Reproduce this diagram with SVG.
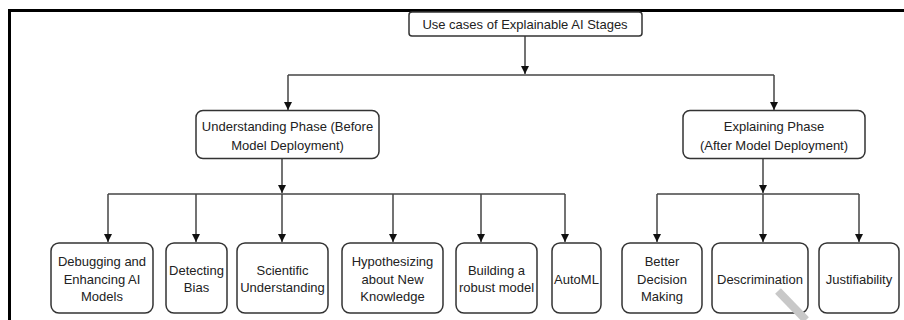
<svg xmlns="http://www.w3.org/2000/svg" width="904" height="320" viewBox="0 0 904 320">
<style>
.box{fill:#fff;stroke:#333;stroke-width:1.5}
.t{font-family:"Liberation Sans",Arial,sans-serif;font-size:13px;fill:#222;text-anchor:middle}
.c{fill:none;stroke:#444;stroke-width:1.5}
</style>
<defs>
<marker id="ah" viewBox="0 0 10 10" refX="10" refY="5" markerWidth="8" markerHeight="8" markerUnits="userSpaceOnUse" orient="auto">
<path d="M0,0 L10,5 L0,10 z" fill="#111"/>
</marker>
</defs>
<rect width="904" height="320" fill="#fff"/>
<path d="M9.5,320 V10.5 H904" fill="none" stroke="#000" stroke-width="3"/>
<g id="connectors">
<path class="c" d="M525,36 V74" marker-end="url(#ah)"/>
<path class="c" d="M288,75 H774"/>
<path class="c" d="M288,75 V110" marker-end="url(#ah)"/>
<path class="c" d="M774,75 V110" marker-end="url(#ah)"/>
<path class="c" d="M282,159 V193" marker-end="url(#ah)"/>
<path class="c" d="M108,194 H565"/>
<path class="c" d="M108,194 V242" marker-end="url(#ah)"/>
<path class="c" d="M196,194 V242" marker-end="url(#ah)"/>
<path class="c" d="M282,194 V242" marker-end="url(#ah)"/>
<path class="c" d="M393,194 V242" marker-end="url(#ah)"/>
<path class="c" d="M481,194 V242" marker-end="url(#ah)"/>
<path class="c" d="M565,194 V242" marker-end="url(#ah)"/>
<path class="c" d="M763,159 V193" marker-end="url(#ah)"/>
<path class="c" d="M657,194 H859"/>
<path class="c" d="M657,194 V242" marker-end="url(#ah)"/>
<path class="c" d="M763,194 V242" marker-end="url(#ah)"/>
<path class="c" d="M859,194 V242" marker-end="url(#ah)"/>
</g>
<g id="root"><rect class="box" x="409" y="12" width="233" height="24" rx="3"/><text class="t" x="525" y="29">Use cases of Explainable AI Stages</text></g>
<g id="understanding"><rect class="box" x="196" y="110.5" width="183" height="48" rx="7"/><text class="t" x="287.5" y="131">Understanding Phase (Before</text><text class="t" x="287.5" y="150">Model Deployment)</text></g>
<g id="explaining"><rect class="box" x="683" y="110.5" width="182" height="48" rx="7"/><text class="t" x="774" y="131">Explaining Phase</text><text class="t" x="774" y="150">(After Model Deployment)</text></g>
<g id="debugging"><rect class="box" x="51" y="243" width="102" height="70" rx="8"/><text class="t" x="102" y="266">Debugging and</text><text class="t" x="102" y="284">Enhancing AI</text><text class="t" x="102" y="301">Models</text></g>
<g id="bias"><rect class="box" x="166" y="243" width="61" height="70" rx="8"/><text class="t" x="196.5" y="275">Detecting</text><text class="t" x="196.5" y="292">Bias</text></g>
<g id="scientific"><rect class="box" x="237" y="243" width="91" height="70" rx="8"/><text class="t" x="282.5" y="275">Scientific</text><text class="t" x="282.5" y="292">Understanding</text></g>
<g id="hypothesizing"><rect class="box" x="342" y="243" width="101" height="70" rx="8"/><text class="t" x="392.5" y="266">Hypothesizing</text><text class="t" x="392.5" y="284">about New</text><text class="t" x="392.5" y="301">Knowledge</text></g>
<g id="robust"><rect class="box" x="456" y="243" width="81" height="70" rx="8"/><text class="t" x="496.5" y="275">Building a</text><text class="t" x="496.5" y="292">robust model</text></g>
<g id="automl"><rect class="box" x="552" y="243" width="49" height="70" rx="8"/><text class="t" x="576.5" y="284">AutoML</text></g>
<g id="decision"><rect class="box" x="622" y="243" width="80" height="70" rx="8"/><text class="t" x="662" y="266">Better</text><text class="t" x="662" y="284">Decision</text><text class="t" x="662" y="301">Making</text></g>
<g id="descrimination"><rect class="box" x="712" y="243" width="96" height="70" rx="8"/><text class="t" x="760" y="284">Descrimination</text></g>
<g id="justifiability"><rect class="box" x="819" y="243" width="80" height="70" rx="8"/><text class="t" x="859" y="284">Justifiability</text></g>
<path d="M778,291 L806,320" stroke="#c8c8c8" stroke-width="8" fill="none"/>
</svg>
